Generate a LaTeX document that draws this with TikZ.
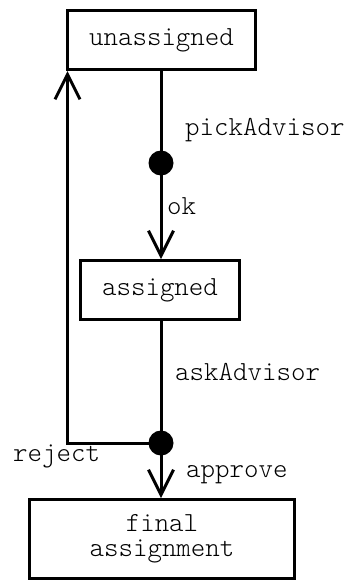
\documentclass[tikz,border=0pt]{standalone}
\usepackage{fontspec}
\newfontfamily\lightmono{Latin Modern Mono Light}
\usetikzlibrary{arrows.meta}
\begin{document}
\begin{tikzpicture}[x=1pt,y=1pt,
  font=\lightmono\fontsize{27.6}{25}\selectfont,
  state/.style={draw, line width=3pt, rectangle, inner sep=0pt, align=center},
  junction/.style={circle, fill=black, inner sep=0pt, minimum size=25pt},
  flow/.style={line width=3pt},
  arrowflow/.style={line width=3pt, -{Straight Barb[length=25pt,width=25pt,line width=3pt]}},
  lbl/.style={anchor=base west, inner sep=0pt}]
  \useasboundingbox (0,0) rectangle (348,-581);

  % states
  \node[state, minimum width=188pt, minimum height=59pt] (unassigned) at (161.5,-40) {unassigned};
  \node[state, minimum width=159pt, minimum height=59pt] (assigned) at (160,-290) {assigned};
  \node[state, minimum width=265pt, minimum height=79pt] (final) at (162,-539) {final\\assignment};

  % decision points
  \node[junction] (d1) at (161,-163) {};
  \node[junction] (d2) at (161,-443) {};

  % transitions
  \draw[flow] (unassigned.south -| d1) -- (d1.center);
  \draw[arrowflow] (d1.center) -- (assigned.north -| d1);
  \draw[flow] (assigned.south -| d2) -- (d2.center);
  \draw[arrowflow] (d2.center) -- (final.north -| d2);
  \draw[arrowflow] (d2.center) -| ([xshift=1.5pt]unassigned.south west);

  % labels
  \node[lbl] (pick) at (185,-135) {pickAdvisor};
  \node[lbl] (ok) at (167,-214) {ok};
  \node[lbl] (ask) at (175,-380) {askAdvisor};
  \node[lbl] (reject) at (13,-461) {reject};
  \node[lbl] (approve) at (186,-477) {approve};
\end{tikzpicture}
\end{document}
